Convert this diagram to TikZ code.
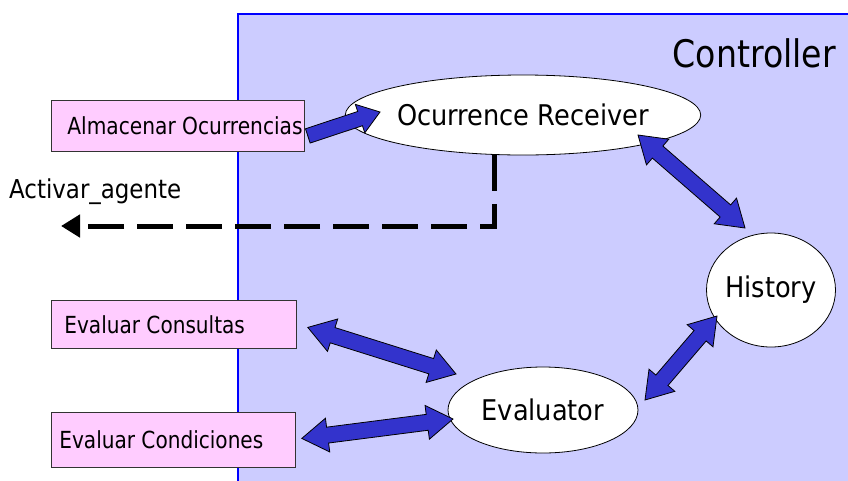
\documentclass[tikz,border=0pt]{standalone}
\usepackage{fontspec}
\usetikzlibrary{shapes.geometric,calc,arrows.meta}
\newfontfamily\labfont{DejaVu Sans Condensed}

\definecolor{ctrlfill}{HTML}{CCCCFF}
\definecolor{ctrlline}{HTML}{0000FF}
\definecolor{pinkfill}{HTML}{FFCCFF}
\definecolor{blockblue}{HTML}{3333CC}

% block arrow dimensions
\def\blkhl{26pt}% head length
\def\blkhw{17pt}% half head width
\def\blksw{8pt}% half shaft width

% double-headed block arrow between two coordinates
\newcommand\dblblock[2]{%
  \coordinate (bk-a) at ($(#1)!\blkhl!(#2)$);
  \coordinate (bk-b) at ($(#2)!\blkhl!(#1)$);
  \draw[blockarrow] (#1)
    -- ($(bk-a)!\blkhw!90:(#2)$) -- ($(bk-a)!\blksw!90:(#2)$)
    -- ($(bk-b)!\blksw!-90:(#1)$) -- ($(bk-b)!\blkhw!-90:(#1)$)
    -- (#2)
    -- ($(bk-b)!\blkhw!90:(#1)$) -- ($(bk-b)!\blksw!90:(#1)$)
    -- ($(bk-a)!\blksw!-90:(#2)$) -- ($(bk-a)!\blkhw!-90:(#2)$)
    -- cycle;}

% single-headed block arrow from #1 to #2
\newcommand\oneblock[2]{%
  \coordinate (bk-b) at ($(#2)!21pt!(#1)$);
  \draw[blockarrow]
       ($(#1)!7.5pt!90:(#2)$)
    -- ($(bk-b)!7.5pt!-90:(#1)$) -- ($(bk-b)!15pt!-90:(#1)$)
    -- (#2)
    -- ($(bk-b)!15pt!90:(#1)$) -- ($(bk-b)!7.5pt!90:(#1)$)
    -- ($(#1)!7.5pt!-90:(#2)$)
    -- cycle;}

% slightly narrowed lettering
\newcommand\nar[2]{\scalebox{#1}[1]{#2}}

\tikzset{
  blockarrow/.style={fill=blockblue, draw=black, line width=0.8pt, line join=miter},
  pinkbox/.style={draw=black!80, fill=pinkfill, line width=0.8pt, inner sep=0pt,
                  anchor=north west, font=\labfont\fontsize{23.5}{27}\selectfont},
  proc/.style={ellipse, draw=black, fill=white, line width=0.8pt, inner sep=0pt,
               font=\labfont\fontsize{28.5}{32}\selectfont},
  flowline/.style={line width=5pt, dash pattern=on 36pt off 13pt,
                   -{Triangle[length=19pt,width=22pt]}},
}

\begin{document}
\begin{tikzpicture}[x=1pt,y=-1pt]
\useasboundingbox (0,0) rectangle (848,480);
\clip (0,0) rectangle (848,480);

% controller area
\draw[fill=ctrlfill, draw=ctrlline, line width=1.6pt] (238,14) rectangle (870,500);
\node[anchor=base east, inner sep=0pt, font=\labfont\fontsize{38}{43}\selectfont]
  (ctrl) at (836,67) {\nar{0.97}{Controller}};

% external operations
\node[pinkbox, minimum height=51pt] (alm) at (51,100)
  {\makebox[253pt][l]{\hspace{16pt}\nar{0.955}{Almacenar Ocurrencias}}};
\node[pinkbox, minimum height=48pt] (cons) at (51,300)
  {\makebox[245pt][l]{\hspace{13pt}\nar{0.95}{Evaluar Consultas}}};
\node[pinkbox, minimum height=55pt] (cond) at (51,412)
  {\makebox[244pt][l]{\hspace{8pt}\nar{0.95}{Evaluar Condiciones}}};

% components
\node[proc, minimum width=286pt, minimum height=80pt]
  (orc) at (523,115) {Ocurrence Receiver};
\node[proc, minimum width=128pt, minimum height=114pt] (hist) at (771,290) {History};
\node[proc, minimum width=190pt, minimum height=86pt] (eva) at (543,410) {Evaluator};

% agent activation
\node[anchor=base west, inner sep=0pt, font=\labfont\fontsize{26}{30}\selectfont]
  (act) at (9,198) {\nar{0.98}{Activar\_agente}};
\coordinate (acttip) at (61,226);
\draw[flowline] (orc.234.5) |- (acttip);

% block arrows
\coordinate (a1) at ($(alm.east)+(3,10)$);
\coordinate (a2) at ($(orc.center)+(-143,-3)$);
\oneblock{a1}{a2}

\coordinate (b1) at ($(orc.center)+(115,20)$);
\coordinate (b2) at ($(hist.center)+(-26,-62)$);
\dblblock{b1}{b2}

\coordinate (c1) at ($(hist.center)+(-54,26)$);
\coordinate (c2) at ($(eva.center)+(102,-10)$);
\dblblock{c1}{c2}

\coordinate (d1) at ($(cons.east)+(11,3)$);
\coordinate (d2) at ($(eva.center)+(-87,-36)$);
\dblblock{d1}{d2}

\coordinate (e1) at ($(cond.east)+(6,-1.5)$);
\coordinate (e2) at ($(eva.center)+(-90,9)$);
\dblblock{e1}{e2}
\end{tikzpicture}
\end{document}
